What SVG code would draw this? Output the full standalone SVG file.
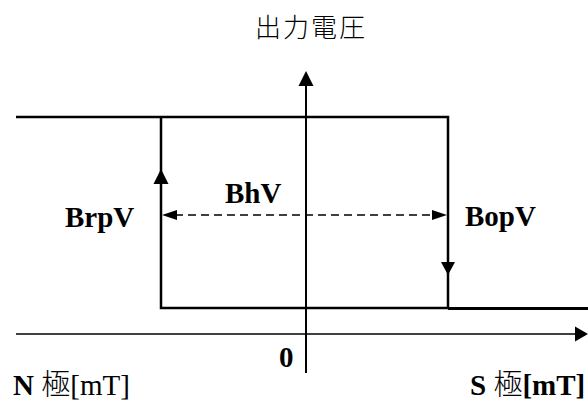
<svg xmlns="http://www.w3.org/2000/svg" width="588" height="403" viewBox="0 0 588 403">
<style>
.serif{font-family:"Liberation Serif","Noto Sans CJK JP",serif;font-size:29px;fill:#000}
.b{font-weight:bold}
.cjk{font-family:"Noto Sans CJK JP",sans-serif;font-weight:300}
.title{font-family:"Noto Sans CJK JP",sans-serif;font-size:26px;font-weight:300;fill:#000;letter-spacing:2px}
.ln{stroke:#000;fill:none}
</style>
<rect width="588" height="403" fill="#fff"/>
<g id="connectors">
  <line class="ln" x1="306" y1="373" x2="306" y2="86" stroke-width="2"/>
  <path d="M306,71 L313.5,86 L298.5,86 z" fill="#000"/>
  <line class="ln" x1="16" y1="334" x2="577" y2="334" stroke-width="1.7"/>
  <path d="M588,334 L575,326.5 L575,341.5 z" fill="#000"/>
  <path class="ln" d="M16,117 L448,117 L448,308" stroke-width="2.5"/>
  <path class="ln" d="M161,117 L161,308 L448,308" stroke-width="2.5"/>
  <line class="ln" x1="448" y1="308.5" x2="588" y2="308.5" stroke-width="3"/>
  <path d="M161,169 L168.5,184 L153.5,184 z" fill="#000"/>
  <path d="M448,275 L455,262 L441,262 z" fill="#000"/>
  <line class="ln" x1="175" y1="215" x2="434" y2="215" stroke-width="1.7" stroke-dasharray="8,5"/>
  <path d="M162,215 L177,210 L177,220 z" fill="#000"/>
  <path d="M447,215 L432,210 L432,220 z" fill="#000"/>
</g>
<g id="title"><text class="title" x="255" y="37">出力電圧</text></g>
<g id="bhv"><text class="serif b" x="225" y="203">BhV</text></g>
<g id="brpv"><text class="serif b" x="65" y="227">BrpV</text></g>
<g id="bopv"><text class="serif b" x="465" y="226">BopV</text></g>
<g id="zero"><text class="serif b" x="279" y="367">0</text></g>
<g id="npole"><text class="serif" x="13" y="395"><tspan class="b">N</tspan> <tspan class="cjk">極</tspan>[mT]</text></g>
<g id="spole"><text class="serif b" x="470" y="395">S <tspan class="cjk">極</tspan>[mT]</text></g>
</svg>
